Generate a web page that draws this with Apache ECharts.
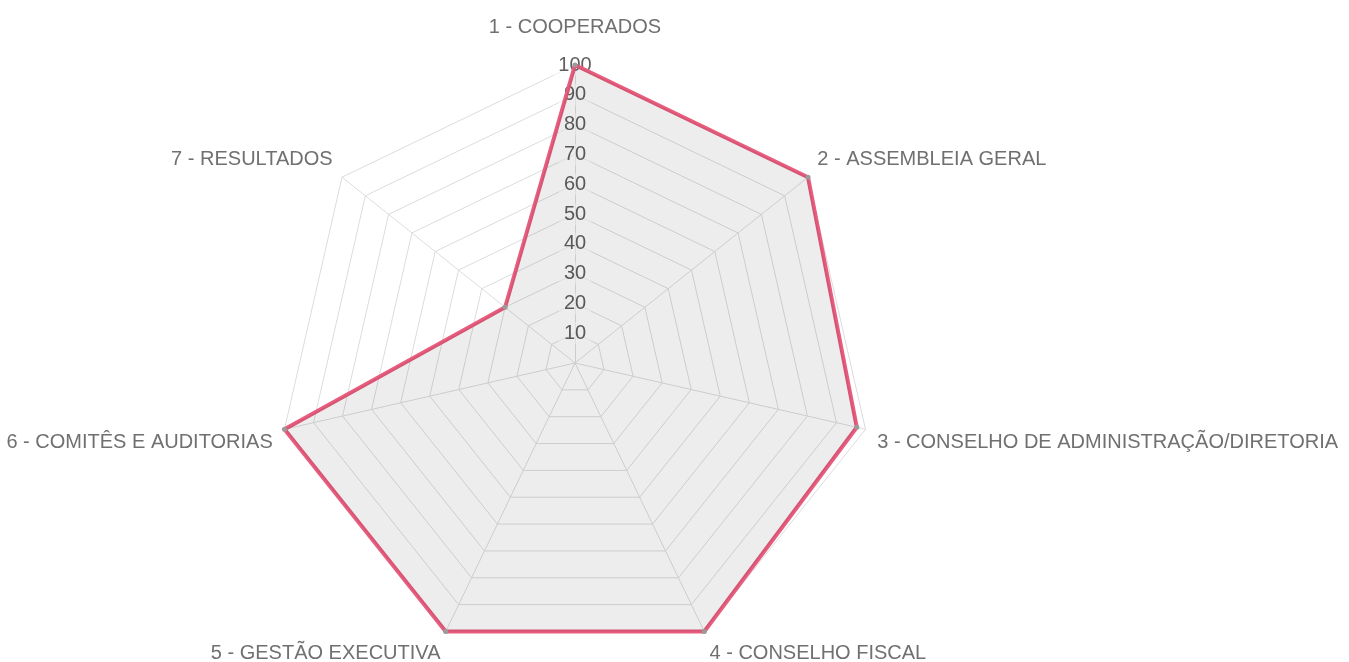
<!DOCTYPE html>
<html>
<head>
<meta charset="utf-8">
<script src="https://cdn.jsdelivr.net/npm/echarts@6/dist/echarts.min.js"></script>
<style>
  html, body { margin: 0; padding: 0; background: #fff; }
  #chart { width: 1349px; height: 662px; }
</style>
</head>
<body>
<div id="chart"></div>
<script>
// indicator names (clockwise from top)
const categories = [
  "1 - COOPERADOS",
  "2 - ASSEMBLEIA GERAL",
  "3 - CONSELHO DE ADMINISTRAÇÃO/DIRETORIA",
  "4 - CONSELHO FISCAL",
  "5 - GESTÃO EXECUTIVA",
  "6 - COMITÊS E AUDITORIAS",
  "7 - RESULTADOS"
];
const scores = [100, 100, 97, 100, 100, 100, 30];
const maxValue = 100;

// echarts lays indicators out counter-clockwise, so feed them reversed after the first
const order = [0, 6, 5, 4, 3, 2, 1];
// rich style key per original index (shifts the name box a bit, like the original)
const nameStyleKey = ["top", "up", "down", "down", "down", "down", "up"];

const chart = echarts.init(document.getElementById("chart"));

const indicator = order.map((idx) => {
  let item = { name: categories[idx], min: 0, max: maxValue };
  if (idx === 0) {
    // only the top axis carries the scale labels
    item.nameGap = 28;
    item.axisLabel = {
      show: true,
      showMinLabel: false,
      align: "center",
      verticalAlign: "middle",
      margin: 0,
      fontSize: 20,
      fontFamily: "Arial, 'Liberation Sans', sans-serif",
      color: "#5f5f5f",
      backgroundColor: "rgba(255,255,255,0.55)",
      padding: [1, 5]
    };
  }
  return item;
});

const option = {
  animation: false,
  radar: {
    center: [575, 363],
    radius: 298,
    startAngle: 90,
    splitNumber: 10,
    shape: "polygon",
    nameGap: 12,
    indicator: indicator,
    axisName: {
      color: "#707070",
      fontSize: 20,
      fontFamily: "Arial, 'Liberation Sans', sans-serif",
      formatter: function (name) {
        const key = nameStyleKey[categories.indexOf(name)];
        return "{" + key + "|" + name + "}";
      },
      rich: {
        top: { padding: [0, 0, 0, 0] },
        up: { padding: [0, 0, 20, 0] },
        down: { padding: [22, 0, 0, 0] }
      }
    },
    axisLine: { lineStyle: { color: "#dcdcdc", width: 1 } },
    splitLine: { lineStyle: { color: "#dcdcdc", width: 1 } },
    splitArea: { show: false },
    axisTick: { show: false },
    axisLabel: { show: false }
  },
  series: [
    {
      type: "radar",
      symbol: "circle",
      symbolSize: 5,
      itemStyle: { color: "#9a9a9a" },
      lineStyle: { color: "#e85c7d", width: 4 },
      areaStyle: { color: "rgba(0,0,0,0.1)" },
      data: [{ value: order.map((idx) => scores[idx]), name: "Score" }]
    }
  ]
};

chart.setOption(option);
</script>
</body>
</html>
